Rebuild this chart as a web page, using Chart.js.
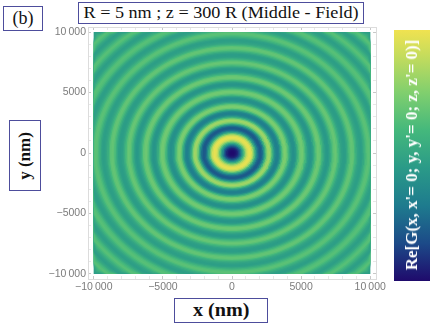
<!DOCTYPE html>
<html>
<head>
<meta charset="utf-8">
<script src="https://cdn.jsdelivr.net/npm/chart.js@4"></script>
<style>
  html, body { margin: 0; padding: 0; background: #fff; }
  #page { position: relative; width: 436px; height: 327px; overflow: hidden; filter: blur(0.4px); }
  canvas { position: absolute; }
  .box {
    position: absolute; box-sizing: border-box; border: 1px solid #4d4d9c;
    display: flex; align-items: center; justify-content: center;
    font-family: "Liberation Serif", serif; color: #111; white-space: nowrap; background: #fff;
  }
  .box span { display: inline-block; }
  .rot { position: absolute; transform: translate(-50%, -50%) rotate(-90deg); white-space: nowrap; font-family: "Liberation Serif", serif; font-weight: bold; }
</style>
</head>
<body>
<div id="page">
  <canvas id="field"></canvas>
  <canvas id="legend-bar"></canvas>
  <div class="box" style="left:3px;top:6px;width:40px;height:25px;font-size:18px">(b)</div>
  <div class="box" style="left:78px;top:2px;width:286px;height:22px;font-size:16.5px"><span style="transform:scaleX(1.1)">R = 5 nm ; z = 300 R (Middle - Field)</span></div>
  <div class="box" style="left:9px;top:120px;width:32px;height:71px"><span class="rot" style="left:15px;top:35px;font-size:17px">y (nm)</span></div>
  <div class="box" style="left:174px;top:298px;width:94px;height:25px;font-size:18px;font-weight:bold"><span style="transform:scaleX(1.12)">x (nm)</span></div>
  <span class="rot" style="left:412px;top:155px;font-size:17px;color:#fff">Re[G(x, x'= 0; y, y'= 0; z, z'= 0)]</span>
</div>
<script>
'use strict';
// Each entry becomes one filled ring (round rings, so no need for a full 2d table).
var radialProfile = [
  0.00, 0.00, 0.01, 0.03, 0.07, 0.14, 0.24, 0.38, 0.52, 0.68,
  0.82, 0.92, 0.97, 0.98, 0.94, 0.84, 0.68, 0.50, 0.36, 0.25,
  0.20, 0.20, 0.26, 0.39, 0.56, 0.72, 0.80, 0.82, 0.76, 0.62,
  0.48, 0.38, 0.33, 0.32, 0.36, 0.47, 0.60, 0.70, 0.74, 0.73,
  0.67, 0.58, 0.49, 0.43, 0.40, 0.40, 0.44, 0.52, 0.61, 0.68,
  0.71, 0.71, 0.67, 0.60, 0.52, 0.46, 0.43, 0.42, 0.45, 0.51,
  0.59, 0.66, 0.70, 0.70, 0.67, 0.60, 0.53, 0.48, 0.45, 0.44,
  0.46, 0.51, 0.58, 0.64, 0.68, 0.69, 0.66, 0.60, 0.54, 0.49,
  0.47, 0.46, 0.47, 0.51, 0.57, 0.63, 0.67, 0.68, 0.66, 0.60,
  0.54, 0.50, 0.48, 0.47, 0.48, 0.52, 0.57, 0.62, 0.65, 0.66,
  0.64, 0.59, 0.54, 0.50, 0.48, 0.47, 0.48, 0.52, 0.57, 0.62,
  0.64, 0.65, 0.63, 0.59, 0.54, 0.50, 0.48, 0.47, 0.49, 0.52,
  0.57, 0.61, 0.64, 0.65, 0.62, 0.58, 0.54, 0.50, 0.48, 0.47,
  0.49, 0.52, 0.57, 0.61, 0.64, 0.65, 0.62, 0.58, 0.54, 0.50,
  0.48, 0.47, 0.48
];
var tickValues = [-10000, -5000, 0, 5000, 10000];
var tickLabels = ['\u221210\u2009000', '\u22125000', '0', '5000', '10\u2009000'];
var minorTicks = [-10000, -9000, -8000, -7000, -6000, -5000, -4000, -3000, -2000, -1000, 0,
  1000, 2000, 3000, 4000, 5000, 6000, 7000, 8000, 9000, 10000];
var legendStops = [
  [0.00, '#1f0a6c'], [0.15, '#1c4a88'], [0.30, '#1e7b8e'], [0.45, '#2a9a88'],
  [0.60, '#44b87c'], [0.75, '#80cf6e'], [0.90, '#c6dc5c'], [1.00, '#f0e250']
];

function hexRgb(h) {
  return [parseInt(h.substr(1, 2), 16), parseInt(h.substr(3, 2), 16), parseInt(h.substr(5, 2), 16)];
}
function colourFor(v) {
  for (var i = 1; i < legendStops.length; i++) {
    if (v <= legendStops[i][0]) {
      var a = legendStops[i - 1], b = legendStops[i];
      var t = (v - a[0]) / (b[0] - a[0]);
      var ca = hexRgb(a[1]), cb = hexRgb(b[1]);
      return 'rgb(' + ca.map(function(c, k) { return Math.round(c + (cb[k] - c) * t); }).join(',') + ')';
    }
  }
  return legendStops[legendStops.length - 1][1];
}
function clampToPlot(v) {
  return Math.max(-10000, Math.min(10000, v));
}

// One closed disc per profile entry, cut to the +-10000 square. Inner discs come first
// because chart.js paints dataset 0 last. 3 degree steps so 45 degrees lands on the corners.
var rings = radialProfile.map(function(v, i) {
  var outer = i * 100 + 50, pts = [];
  for (var deg = 0; deg <= 360; deg += 3) {
    var a = deg * Math.PI / 180;
    pts.push({x: clampToPlot(outer * Math.cos(a)), y: clampToPlot(outer * Math.sin(a))});
  }
  return {
    data: pts,
    showLine: true,
    fill: 'shape',
    backgroundColor: colourFor(v),
    borderWidth: 0,
    pointRadius: 0,
    tension: 0,
  };
});

function frameAxis(position, show, size) {
  return {
    type: 'linear', position: position, min: -10420, max: 10420,
    afterBuildTicks: function(axis) {
      axis.ticks = minorTicks.map(function(v) { return {value: v}; });
    },
    afterFit: function(axis) {
      if (axis.isHorizontal()) axis.height = size; else axis.width = size;
    },
    border: {display: true, color: '#dcdcdc', width: 1},
    grid: {
      drawOnChartArea: false, tickLength: -3,
      tickColor: function(c) { return c.tick.value % 5000 === 0 ? '#c8c8c8' : '#e8e8e8'; }
    },
    ticks: {
      display: show, autoSkip: false, maxRotation: 0, padding: 5, color: '#7c7c7c',
      font: {family: '"Liberation Sans", sans-serif', size: 10.5},
      callback: function(v) {
        var i = tickValues.indexOf(v);
        return i < 0 ? '' : tickLabels[i];
      }
    }
  };
}

var fieldCanvas = document.getElementById('field');
fieldCanvas.style.left = '0px'; fieldCanvas.style.top = '0px';
fieldCanvas.width = 436; fieldCanvas.height = 327;
window.chart = new Chart(fieldCanvas, {
  type: 'scatter',
  data: {datasets: rings},
  options: {
    responsive: false,
    animation: false,
    events: [],
    layout: {padding: {left: 0, top: 27, right: 60, bottom: 0}},
    plugins: {legend: {display: false}, tooltip: {enabled: false}},
    scales: {
      x: frameAxis('bottom', true, 48),
      y: frameAxis('left', true, 88),
      x2: frameAxis('top', false, 0),
      y2: frameAxis('right', false, 0),
    }
  }
});

// Colour bar: one full height bar with the same stops as the field
var barCanvas = document.getElementById('legend-bar');
barCanvas.style.left = '394px'; barCanvas.style.top = '30px';
barCanvas.width = 36; barCanvas.height = 251;
window.legendChart = new Chart(barCanvas, {
  type: 'bar',
  data: {
    labels: ['Re G'],
    datasets: [{
      data: [[0, 1]],
      barPercentage: 1,
      categoryPercentage: 1,
      backgroundColor: function(ctx) {
        var area = ctx.chart.chartArea;
        if (!area) return legendStops[0][1];
        var g = ctx.chart.ctx.createLinearGradient(0, area.bottom, 0, area.top);
        legendStops.forEach(function(s) { g.addColorStop(s[0], s[1]); });
        return g;
      }
    }]
  },
  options: {
    responsive: false,
    animation: false,
    events: [],
    plugins: {legend: {display: false}, tooltip: {enabled: false}},
    scales: {x: {display: false}, y: {display: false, min: 0, max: 1}}
  }
});
</script>
</body>
</html>
